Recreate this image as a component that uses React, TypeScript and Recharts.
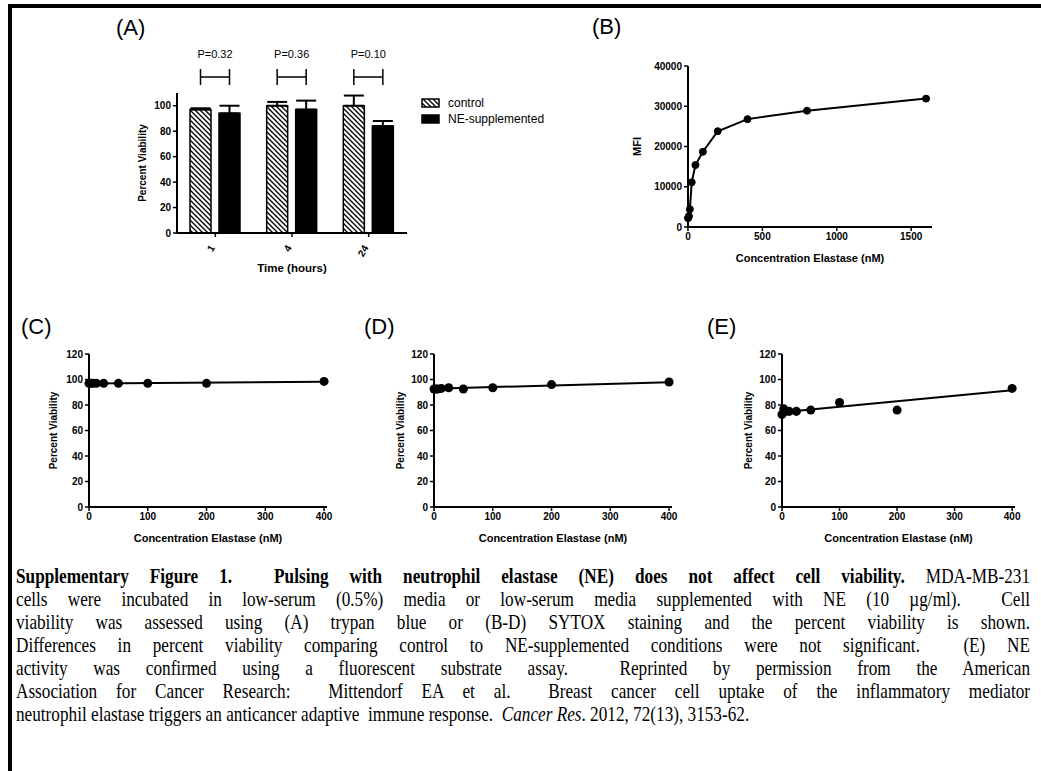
import React from 'react';
import {
  BarChart, Bar, XAxis, YAxis, ErrorBar, Legend, LabelList,
  LineChart, Line, ComposedChart, Scatter,
} from 'recharts';

// (A) trypan blue viability
const timeHours = ['1', '4', '24'];
const controlViability = [97, 100, 100];
const controlSem = [1, 3, 8];
const neViability = [94, 97, 84];
const neSem = [6, 7, 4];
const pValues = ['P=0.32', 'P=0.36', 'P=0.10'];
const seriesNames = ['control', 'NE-supplemented'];

// (B) MFI vs elastase
const mfiConc = [0, 3.125, 6.25, 12.5, 25, 50, 100, 200, 400, 800, 1600];
const mfiValues = [2200, 2400, 2700, 4400, 11100, 15400, 18700, 23800, 26800, 28900, 31900];

// (C)-(E) percent viability vs elastase
const viabConc = [0, 3.125, 6.25, 12.5, 25, 50, 100, 200, 400];
const viabC = [97, 97, 97, 97, 97, 97, 97, 97, 98.5];
const viabD = [92.5, 92.5, 92.5, 93, 93.5, 92.5, 93.5, 96, 98];
const viabE = [72.5, 77, 75, 75, 75, 76, 82, 76, 93];
const fitConc = [0, 400];
const fitC = [96.9, 98.3];
const fitD = [92.8, 97.8];
const fitE = [74.3, 91.5];

const FONT = '"Liberation Sans", Arial, sans-serif';
const BAR_GAP = 8;

const barData = timeHours.map((t, i) => ({
  time: t,
  control: controlViability[i],
  controlErr: [0, controlSem[i]],
  ne: neViability[i],
  neErr: [0, neSem[i]],
  p: pValues[i],
}));
const mfiData = mfiConc.map((c, i) => ({ conc: c, mfi: mfiValues[i] }));

const tickStyle = { fill: '#000', fontSize: 10, fontWeight: 'bold', fontFamily: FONT };
const axisLine = { stroke: '#000', strokeWidth: 2 };
const tickLine = { stroke: '#000', strokeWidth: 1.5 };

function yTitle(text: string, x: number, size = 10) {
  return {
    content: (props: any) => {
      const vb = props.viewBox || {};
      const cy = vb.y + vb.height / 2;
      return (
        <text x={x} y={cy} transform={`rotate(-90, ${x}, ${cy})`} textAnchor="middle"
          dominantBaseline="central" fontFamily={FONT} fontSize={size} fontWeight="bold" fill="#000">
          {text}
        </text>
      );
    },
  };
}

function xTitle(text: string, y: number, size = 11) {
  return {
    content: (props: any) => {
      const vb = props.viewBox || {};
      const cx = vb.x + vb.width / 2;
      return (
        <text x={cx} y={y} textAnchor="middle" dominantBaseline="central"
          fontFamily={FONT} fontSize={size} fontWeight="bold" fill="#000">
          {text}
        </text>
      );
    },
  };
}

function RotatedTick(props: any) {
  const { x, y, payload } = props;
  const tx = x - 3;
  const ty = y + 7;
  return (
    <text x={tx} y={ty} transform={`rotate(-60, ${tx}, ${ty})`} textAnchor="end" dominantBaseline="central"
      fontFamily={FONT} fontSize={10} fontWeight="bold" fill="#000">
      {payload.value}
    </text>
  );
}

function PBracket(props: any) {
  const vb = props.viewBox || props;
  const { x, y, width, height } = vb;
  const base = y + height;
  const right = x + width / 2;
  const left = x - BAR_GAP - width / 2;
  const mid = (left + right) / 2;
  return (
    <g stroke="#000" strokeWidth={1.5}>
      <line x1={left} x2={left} y1={base - 164} y2={base - 148} />
      <line x1={right} x2={right} y1={base - 164} y2={base - 148} />
      <line x1={left} x2={right} y1={base - 156} y2={base - 156} />
      <text x={mid} y={base - 179} stroke="none" fill="#000" textAnchor="middle" dominantBaseline="central"
        fontFamily={FONT} fontSize={11}>
        {props.value}
      </text>
    </g>
  );
}

function BarLegend() {
  return (
    <svg width={150} height={34} style={{ display: 'block' }}>
      <defs>
        <pattern id="hatchLegend" patternUnits="userSpaceOnUse" width={5} height={5}>
          <path d="M0,0 L5,5 M-1,4 L1,6 M4,-1 L6,1" stroke="#000" strokeWidth={1.3} />
        </pattern>
      </defs>
      <rect x={1} y={2} width={17} height={8} fill="url(#hatchLegend)" stroke="#000" strokeWidth={1.5} />
      <text x={27} y={6} dominantBaseline="central" fontFamily={FONT} fontSize={12} fill="#000">{seriesNames[0]}</text>
      <rect x={1} y={18} width={17} height={8} fill="#000" stroke="#000" strokeWidth={1.5} />
      <text x={27} y={22} dominantBaseline="central" fontFamily={FONT} fontSize={12} fill="#000">{seriesNames[1]}</text>
    </svg>
  );
}

function PanelA() {
  return (
    <BarChart width={370} height={240} data={barData} barSize={21} barGap={BAR_GAP}
      margin={{ top: 53, right: 63, bottom: 7, left: 10 }}>
      <defs>
        <pattern id="hatch" patternUnits="userSpaceOnUse" width={5} height={5}>
          <path d="M0,0 L5,5 M-1,4 L1,6 M4,-1 L6,1" stroke="#000" strokeWidth={1.3} />
        </pattern>
      </defs>
      <XAxis dataKey="time" type="category" height={40} axisLine={axisLine} tickLine={tickLine} tickSize={4}
        tick={<RotatedTick />} interval={0} label={xTitle('Time (hours)', 228, 11.5)} />
      <YAxis type="number" domain={[0, 110]} ticks={[0, 20, 40, 60, 80, 100]} width={67} axisLine={axisLine}
        tickLine={tickLine} tickSize={4} tick={tickStyle} label={yTitle('Percent Viability', 42)} />
      <Legend layout="vertical" align="center" verticalAlign="middle"
        wrapperStyle={{ left: 321, top: 57, width: 150, height: 34 }} content={() => <BarLegend />} />
      <Bar dataKey="control" name={seriesNames[0]} fill="url(#hatch)" stroke="#000" strokeWidth={1.5}
        isAnimationActive={false}>
        <ErrorBar dataKey="controlErr" direction="y" width={10} stroke="#000" strokeWidth={2} />
      </Bar>
      <Bar dataKey="ne" name={seriesNames[1]} fill="#000" stroke="#000" strokeWidth={1.5} isAnimationActive={false}>
        <ErrorBar dataKey="neErr" direction="y" width={10} stroke="#000" strokeWidth={2} />
        <LabelList dataKey="p" content={(p: any) => <PBracket {...p} />} />
      </Bar>
    </BarChart>
  );
}

function PanelB() {
  return (
    <LineChart width={370} height={240} data={mfiData} margin={{ top: 26, right: 18, bottom: 8, left: 20 }}>
      <XAxis dataKey="conc" type="number" domain={[0, 1640]} ticks={[0, 500, 1000, 1500]} height={45}
        axisLine={axisLine} tickLine={tickLine} tickSize={4} tick={tickStyle}
        label={xTitle('Concentration Elastase (nM)', 218)} />
      <YAxis type="number" domain={[0, 40000]} ticks={[0, 10000, 20000, 30000, 40000]} width={88}
        axisLine={axisLine} tickLine={tickLine} tickSize={4} tick={tickStyle} label={yTitle('MFI', 57, 11)} />
      <Line type="linear" dataKey="mfi" stroke="#000" strokeWidth={2}
        dot={{ r: 3.5, fill: '#000', stroke: '#000', strokeWidth: 1 }} isAnimationActive={false} />
    </LineChart>
  );
}

function ViabilityPanel({ values, fit, width, yTitleX }: { values: number[]; fit: number[]; width: number; yTitleX: number }) {
  const points = viabConc.map((c, i) => ({ conc: c, v: values[i] }));
  const fitLine = fitConc.map((c, i) => ({ conc: c, v: fit[i] }));
  return (
    <ComposedChart width={width} height={215} margin={{ top: 14, right: 13, bottom: 6, left: 10 }}>
      <XAxis dataKey="conc" type="number" domain={[0, 405]} ticks={[0, 100, 200, 300, 400]} height={42}
        axisLine={axisLine} tickLine={tickLine} tickSize={4} tick={tickStyle}
        label={xTitle('Concentration Elastase (nM)', 198)} />
      <YAxis dataKey="v" type="number" domain={[0, 120]} ticks={[0, 20, 40, 60, 80, 100, 120]} width={59}
        axisLine={axisLine} tickLine={tickLine} tickSize={4} tick={tickStyle}
        label={yTitle('Percent Viability', yTitleX)} />
      <Line data={fitLine} dataKey="v" type="linear" stroke="#000" strokeWidth={2} dot={false}
        isAnimationActive={false} />
      <Scatter data={points} dataKey="v" fill="#000" shape="circle" isAnimationActive={false} />
    </ComposedChart>
  );
}

const captionLines = [
  [<b key="b">Supplementary Figure 1.&nbsp; Pulsing with neutrophil elastase (NE) does not affect cell viability.</b>, ' MDA-MB-231'],
  ['cells were incubated in low-serum (0.5%) media or low-serum media supplemented with NE (10 \u00b5g/ml).\u00a0 Cell'],
  ['viability was assessed using (A) trypan blue or (B-D) SYTOX staining and the percent viability is shown.'],
  ['Differences in percent viability comparing control to NE-supplemented conditions were not significant.\u00a0 (E) NE'],
  ['activity was confirmed using a fluorescent substrate assay.\u00a0 Reprinted by permission from the American'],
  ['Association for Cancer Research:\u00a0 Mittendorf EA et al.\u00a0 Breast cancer cell uptake of the inflammatory mediator'],
  ['neutrophil elastase triggers an anticancer adaptive\u00a0 immune response.\u00a0 ', <i key="i">Cancer Res</i>, '. 2012, 72(13), 3153-62.'],
];

const CAP_SCALE = 0.8;

const panelLabel = (text: string, left: number, top: number) => (
  <div style={{ position: 'absolute', left, top, fontFamily: FONT, fontSize: 22, lineHeight: '22px', color: '#000' }}>
    {text}
  </div>
);

export default function App() {
  return (
    <div style={{ position: 'absolute', left: 0, top: 0, width: 1041, height: 771, background: '#fff', overflow: 'hidden' }}>
      <div style={{ position: 'absolute', left: 8, top: 4, width: 1033, height: 767, borderLeft: '4px solid #000', borderTop: '4px solid #000', boxSizing: 'border-box' }} />
      {panelLabel('(A)', 116, 17)}
      {panelLabel('(B)', 592, 16)}
      {panelLabel('(C)', 21, 316)}
      {panelLabel('(D)', 364, 316)}
      {panelLabel('(E)', 707, 316)}
      <div style={{ position: 'absolute', left: 100, top: 40 }}><PanelA /></div>
      <div style={{ position: 'absolute', left: 580, top: 40 }}><PanelB /></div>
      <div style={{ position: 'absolute', left: 20, top: 340 }}>
        <ViabilityPanel values={viabC} fit={fitC} width={320} yTitleX={33} />
      </div>
      <div style={{ position: 'absolute', left: 365, top: 340 }}>
        <ViabilityPanel values={viabD} fit={fitD} width={320} yTitleX={35} />
      </div>
      <div style={{ position: 'absolute', left: 713, top: 340 }}>
        <ViabilityPanel values={viabE} fit={fitE} width={315} yTitleX={35} />
      </div>
      {captionLines.map((parts, i) => (
        <div key={i} style={{
          position: 'absolute', left: 16, top: 565 + i * 23, width: 1014 / CAP_SCALE,
          transform: `scaleX(${CAP_SCALE})`, transformOrigin: '0 0',
          fontFamily: '"Liberation Serif", "Times New Roman", serif', fontSize: 21.5, lineHeight: '23px', color: '#000',
          textAlign: 'justify', textAlignLast: i === captionLines.length - 1 ? 'left' : 'justify', whiteSpace: 'nowrap',
        }}>
          {parts}
        </div>
      ))}
    </div>
  );
}
